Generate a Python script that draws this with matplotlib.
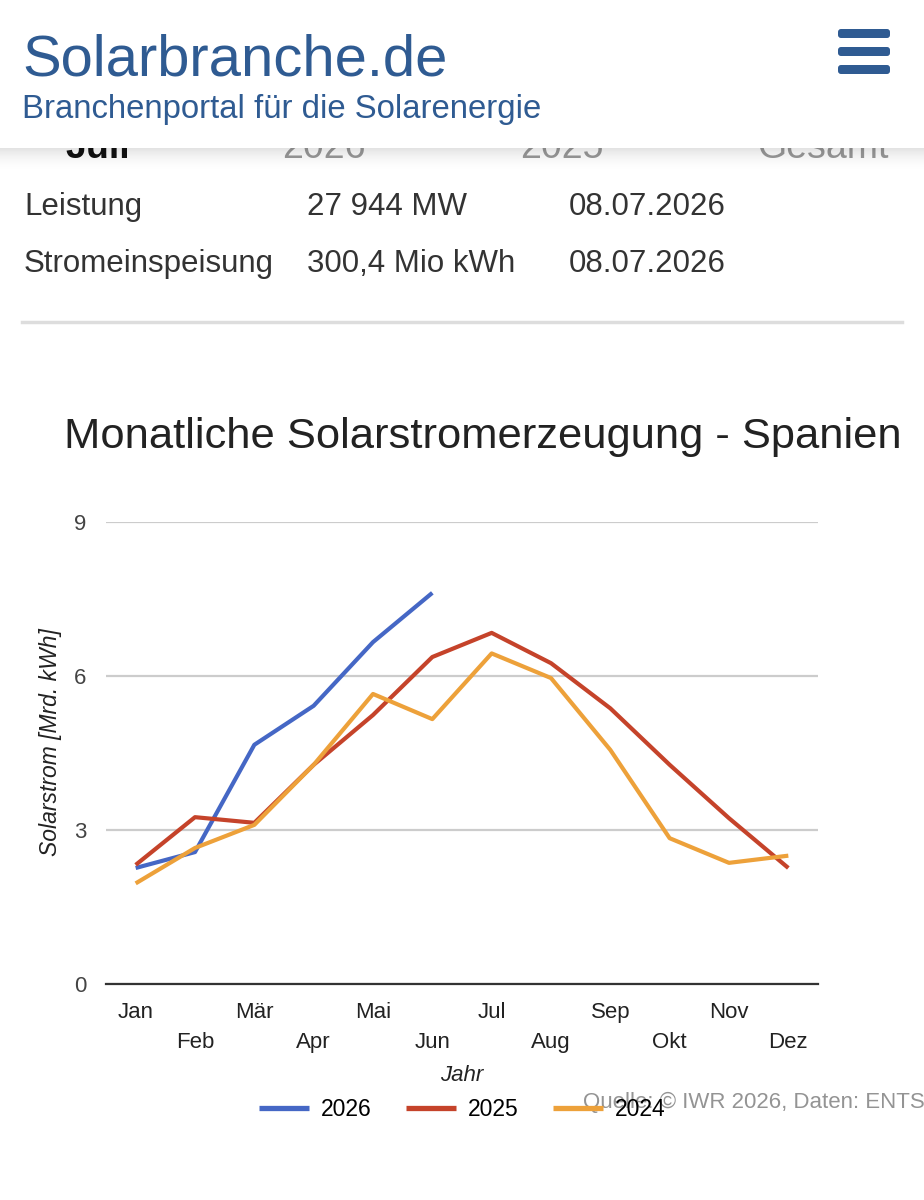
import matplotlib
matplotlib.use("Agg")
from matplotlib import pyplot as plt
from matplotlib.patches import Rectangle, FancyBboxPatch
import numpy as np

plt.rcParams['font.family'] = ['Liberation Sans', 'DejaVu Sans']

# Daten (Mrd. kWh)
monate_oben = ['Jan', '', 'Mär', '', 'Mai', '', 'Jul', '', 'Sep', '', 'Nov', '']
monate_unten = ['', 'Feb', '', 'Apr', '', 'Jun', '', 'Aug', '', 'Okt', '', 'Dez']
jahre = ['2026', '2025', '2024']
werte_2026 = [2.26, 2.57, 4.66, 5.42, 6.66, 7.62]
werte_2025 = [2.32, 3.25, 3.14, 4.27, 5.24, 6.37, 6.84, 6.25, 5.37, 4.27, 3.23, 2.26]
werte_2024 = [1.96, 2.65, 3.10, 4.27, 5.65, 5.16, 6.44, 5.96, 4.56, 2.84, 2.36, 2.50]
farben = ['#4567c5', '#c5432a', '#eda13a']

blau = '#2f5b92'

fig = plt.figure(figsize=(9.24, 12), dpi=100)

# Hintergrund-Achse in Pixelkoordinaten
bg = fig.add_axes([0, 0, 1, 1])
bg.set_xlim(0, 924)
bg.set_ylim(1200, 0)
bg.axis('off')

# halb verdeckte Kopfzeile der Tabelle
bg.text(65, 158, 'Juli', fontsize=27, fontweight='bold', color='#111111', zorder=1)
for x, t in [(282, '2026'), (520, '2025'), (757, 'Gesamt')]:
    bg.text(x, 158, t, fontsize=27, color='#999999', zorder=1)

# Tabelle
zeilen = [('Leistung', '27 944 MW', '08.07.2026', 215),
          ('Stromeinspeisung', '300,4 Mio kWh', '08.07.2026', 272)]
for name, wert, datum, y in zeilen:
    bg.text(24, y, name, fontsize=22.5, color='#333333')
    bg.text(307, y, wert, fontsize=22.5, color='#333333')
    bg.text(569, y, datum, fontsize=22.5, color='#333333')

bg.plot([22, 902], [322, 322], color='#dddddd', lw=2.5)

# Kopfbereich mit Schatten
bg.add_patch(Rectangle((0, 0), 924, 148, facecolor='white', edgecolor='none', zorder=3))
for i in range(24):
    a = 0.11 * (1 - i / 24) ** 2
    bg.add_patch(Rectangle((0, 148 + i), 924, 1.05, facecolor='black', alpha=a,
                           edgecolor='none', zorder=2.5))
bg.text(22, 75, 'Solarbranche.de', fontsize=41.8, color=blau, zorder=4)
bg.text(22, 118, 'Branchenportal für die Solarenergie', fontsize=23.7, color=blau, zorder=4)
for y in [29, 47, 65]:
    bg.add_patch(FancyBboxPatch((838, y), 52, 9, boxstyle='round,pad=0,rounding_size=3',
                                facecolor=blau, edgecolor='none', zorder=4))

# Titel
bg.text(64, 448, 'Monatliche Solarstromerzeugung - Spanien', fontsize=31.3, color='#222222')

# Diagramm
ax = fig.add_axes([106 / 924, (1200 - 984) / 1200, 712 / 924, 462 / 1200])
x = np.arange(12)
ax.plot(x[:len(werte_2026)], werte_2026, color=farben[0], lw=3, solid_joinstyle='round',
        solid_capstyle='butt', label=jahre[0])
ax.plot(x, werte_2025, color=farben[1], lw=3, solid_joinstyle='round',
        solid_capstyle='butt', label=jahre[1])
ax.plot(x, werte_2024, color=farben[2], lw=3, solid_joinstyle='round',
        solid_capstyle='butt', label=jahre[2])

ax.set_xlim(-0.5, 11.5)
ax.set_ylim(0, 9)
ax.set_yticks([0, 3, 6, 9])
ax.set_yticklabels(['0', '3', '6', '9'], fontsize=16, color='#444444')
ax.yaxis.grid(True, color='#cccccc', lw=1.6)
ax.set_axisbelow(True)
for s in ['top', 'right', 'left']:
    ax.spines[s].set_visible(False)
ax.spines['bottom'].set_color('#333333')
ax.spines['bottom'].set_linewidth(1.6)
ax.tick_params(axis='y', length=0, pad=14)
ax.tick_params(axis='x', length=0)
ax.set_xticks(x)
ax.set_xticklabels(['' for _ in x])
for i in x:
    if monate_oben[i]:
        ax.text(i, -0.35, monate_oben[i], ha='center', va='top', fontsize=16, color='#222222')
    if monate_unten[i]:
        ax.text(i, -0.93, monate_unten[i], ha='center', va='top', fontsize=16, color='#222222')

ax.set_ylabel('Solarstrom [Mrd. kWh]', fontsize=16.5, fontstyle='italic', color='#222222')
ax.yaxis.set_label_coords(-0.062, 0.523)
bg.text(462, 1081, 'Jahr', ha='center', fontsize=16, fontstyle='italic', color='#222222')

leg = ax.legend(loc='upper center', bbox_to_anchor=(0.5, -0.203), ncol=3, frameon=False,
                fontsize=16.5, handlelength=2.2, handletextpad=0.5, columnspacing=1.5)
for h in leg.get_lines():
    h.set_linewidth(3.8)

bg.text(583, 1108, 'Quelle: © IWR 2026, Daten: ENTSO-E', fontsize=16, color='#888888',
        alpha=0.9, zorder=5)

fig.savefig('out.png', dpi=100)
